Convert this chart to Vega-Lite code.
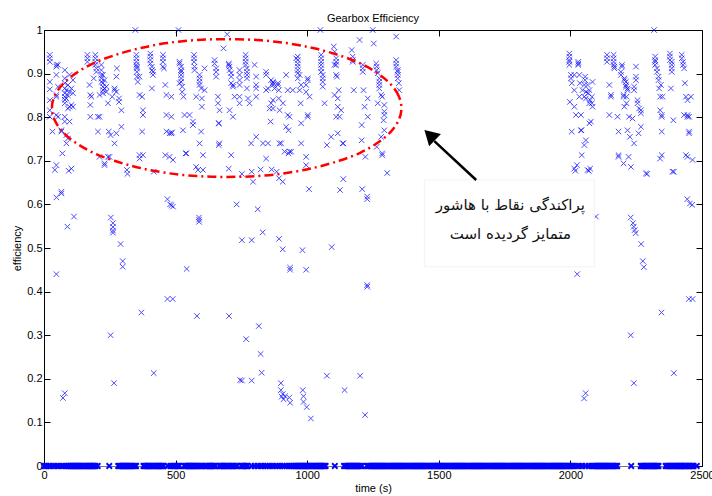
{
"$schema":"https://vega.github.io/schema/vega-lite/v6.json",
"width":658,"height":436,
"autosize":{"type":"none"},
"padding":{"left":44,"top":30,"right":10,"bottom":30},
"background":"white",
"title":{"text":"Gearbox Efficiency","fontSize":11,"font":"Liberation Sans","fontWeight":"normal","color":"black","anchor":"middle","offset":8,"baseline":"alphabetic","dy":17},
"config":{"view":{"stroke":null},"axis":{"labelFont":"Liberation Sans","titleFont":"Liberation Sans","labelFontSize":11,"titleFontSize":11,"titleFontWeight":"normal","labelColor":"black","titleColor":"black","domainColor":"black","tickColor":"black","grid":false,"tickSize":-6,"labelFlush":false}},
"datasets":{
"pts":[
{"t":22,"e":0.943},{"t":22,"e":0.935},{"t":22,"e":0.927},{"t":22,"e":0.881},{"t":22,"e":0.864},{"t":22,"e":0.839},{"t":22,"e":0.816},{"t":22,"e":0.801},
{"t":32,"e":0.767},{"t":47,"e":0.92},{"t":47,"e":0.916},{"t":47,"e":0.897},{"t":47,"e":0.851},{"t":47,"e":0.847},{"t":47,"e":0.805},{"t":47,"e":0.69},
{"t":53,"e":0.92},{"t":53,"e":0.87},{"t":53,"e":0.801},{"t":66,"e":0.77},{"t":66,"e":0.767},{"t":70,"e":0.717},
{"t":79,"e":0.908},{"t":79,"e":0.889},{"t":79,"e":0.878},{"t":79,"e":0.866},{"t":79,"e":0.855},{"t":79,"e":0.847},{"t":79,"e":0.84},{"t":79,"e":0.832},{"t":79,"e":0.801},{"t":79,"e":0.79},
{"t":85,"e":0.862},{"t":85,"e":0.843},{"t":85,"e":0.759},{"t":85,"e":0.74},{"t":91,"e":0.874},{"t":91,"e":0.85},{"t":91,"e":0.82},{"t":91,"e":0.751},
{"t":97,"e":0.897},{"t":97,"e":0.858},{"t":97,"e":0.824},{"t":97,"e":0.79},{"t":104,"e":0.866},{"t":104,"e":0.828},{"t":104,"e":0.682},{"t":110,"e":0.885},{"t":110,"e":0.855},{"t":110,"e":0.824},
{"t":165,"e":0.943},{"t":165,"e":0.935},{"t":165,"e":0.927},{"t":173,"e":0.874},{"t":176,"e":0.851},{"t":176,"e":0.828},{"t":176,"e":0.801},{"t":180,"e":0.847},{"t":189,"e":0.889},
{"t":195,"e":0.943},{"t":195,"e":0.935},{"t":195,"e":0.927},{"t":195,"e":0.92},{"t":199,"e":0.912},{"t":199,"e":0.904},{"t":205,"e":0.801},{"t":205,"e":0.767},{"t":211,"e":0.851},{"t":211,"e":0.801},{"t":211,"e":0.709},
{"t":218,"e":0.92},{"t":218,"e":0.908},{"t":218,"e":0.897},{"t":218,"e":0.889},{"t":218,"e":0.881},{"t":224,"e":0.878},{"t":224,"e":0.87},{"t":224,"e":0.862},{"t":224,"e":0.855},{"t":224,"e":0.897},
{"t":230,"e":0.69},{"t":230,"e":0.694},{"t":230,"e":0.885},{"t":230,"e":0.866},{"t":237,"e":0.87},{"t":237,"e":0.858},{"t":243,"e":0.832},{"t":243,"e":0.709},{"t":249,"e":0.709},{"t":253,"e":0.759},{"t":246,"e":0.767},{"t":259,"e":0.847},
{"t":268,"e":0.866},{"t":268,"e":0.862},{"t":268,"e":0.74},{"t":275,"e":0.893},{"t":275,"e":0.858},{"t":275,"e":0.763},{"t":277,"e":0.912},{"t":285,"e":0.835},{"t":285,"e":0.843},{"t":294,"e":0.816},{"t":294,"e":0.778},{"t":315,"e":0.679},
{"t":351,"e":0.943},{"t":351,"e":0.935},{"t":351,"e":0.927},{"t":351,"e":0.92},{"t":353,"e":0.916},{"t":353,"e":0.912},{"t":353,"e":0.904},{"t":353,"e":0.893},{"t":356,"e":0.881},
{"t":363,"e":0.893},{"t":363,"e":0.851},{"t":363,"e":0.713},{"t":363,"e":0.705},{"t":373,"e":0.847},{"t":373,"e":0.767},{"t":376,"e":0.816},{"t":376,"e":0.805},{"t":376,"e":0.713},
{"t":404,"e":0.946},{"t":404,"e":0.939},{"t":404,"e":0.931},{"t":404,"e":0.923},{"t":410,"e":0.916},{"t":410,"e":0.908},{"t":410,"e":0.866},{"t":414,"e":0.904},{"t":414,"e":0.897},
{"t":452,"e":0.943},{"t":452,"e":0.935},{"t":452,"e":0.927},{"t":452,"e":0.916},{"t":456,"e":0.912},{"t":461,"e":0.874},{"t":461,"e":0.713},
{"t":465,"e":0.851},{"t":465,"e":0.805},{"t":465,"e":0.767},{"t":477,"e":0.763},{"t":477,"e":0.709},{"t":484,"e":0.847},{"t":484,"e":0.801},{"t":484,"e":0.763},{"t":486,"e":0.765},{"t":490,"e":0.702},
{"t":515,"e":0.927},{"t":515,"e":0.923},{"t":515,"e":0.878},{"t":521,"e":0.916},{"t":521,"e":0.908},{"t":521,"e":0.904},{"t":521,"e":0.897},{"t":521,"e":0.889},{"t":521,"e":0.881},
{"t":525,"e":0.858},{"t":525,"e":0.87},{"t":528,"e":0.77},{"t":530,"e":0.847},{"t":534,"e":0.805},{"t":538,"e":0.717},{"t":541,"e":0.717},{"t":553,"e":0.805},
{"t":566,"e":0.79},{"t":566,"e":0.782},{"t":570,"e":0.943},{"t":570,"e":0.935},{"t":570,"e":0.927},{"t":572,"e":0.916},{"t":572,"e":0.908},{"t":578,"e":0.847},{"t":578,"e":0.686},{"t":585,"e":0.679},
{"t":591,"e":0.897},{"t":591,"e":0.889},{"t":591,"e":0.881},{"t":591,"e":0.874},{"t":591,"e":0.74},{"t":597,"e":0.866},{"t":597,"e":0.767},{"t":600,"e":0.824},{"t":600,"e":0.843},{"t":604,"e":0.713},{"t":604,"e":0.679},{"t":610,"e":0.912},{"t":610,"e":0.862},
{"t":648,"e":0.931},{"t":648,"e":0.923},{"t":654,"e":0.912},{"t":654,"e":0.904},{"t":654,"e":0.893},{"t":661,"e":0.847},{"t":661,"e":0.832},{"t":663,"e":0.786},{"t":665,"e":0.786},{"t":664,"e":0.736},{"t":666,"e":0.74},{"t":667,"e":0.816},
{"t":682,"e":0.958},{"t":696,"e":0.99},{"t":702,"e":0.923},{"t":702,"e":0.92},{"t":702,"e":0.682},{"t":705,"e":0.916},{"t":705,"e":0.908},{"t":705,"e":0.816},{"t":711,"e":0.901},{"t":711,"e":0.893},{"t":711,"e":0.713},{"t":711,"e":0.878},{"t":718,"e":0.874},{"t":718,"e":0.87},{"t":718,"e":0.801},{"t":724,"e":0.847},
{"t":743,"e":0.908},{"t":743,"e":0.897},{"t":743,"e":0.885},{"t":743,"e":0.874},{"t":743,"e":0.847},{"t":743,"e":0.832},
{"t":766,"e":0.943},{"t":766,"e":0.935},{"t":766,"e":0.927},{"t":766,"e":0.92},{"t":771,"e":0.912},{"t":771,"e":0.904},{"t":771,"e":0.897},{"t":771,"e":0.889},{"t":771,"e":0.866},{"t":775,"e":0.843},{"t":781,"e":0.832},{"t":787,"e":0.74},
{"t":800,"e":0.92},{"t":806,"e":0.755},{"t":806,"e":0.893},{"t":806,"e":0.874},{"t":806,"e":0.866},{"t":806,"e":0.847},
{"t":832,"e":0.74},{"t":844,"e":0.904},{"t":844,"e":0.897},{"t":844,"e":0.862},{"t":844,"e":0.705},{"t":851,"e":0.866},{"t":851,"e":0.74},{"t":857,"e":0.82},{"t":861,"e":0.79},{"t":863,"e":0.885},{"t":863,"e":0.832},
{"t":870,"e":0.881},{"t":870,"e":0.878},{"t":870,"e":0.874},{"t":870,"e":0.839},{"t":870,"e":0.82},{"t":876,"e":0.866},
{"t":889,"e":0.878},{"t":889,"e":0.874},{"t":892,"e":0.862},{"t":892,"e":0.843},{"t":895,"e":0.816},{"t":895,"e":0.74},{"t":901,"e":0.74},{"t":908,"e":0.832},{"t":914,"e":0.721},
{"t":920,"e":0.897},{"t":920,"e":0.778},{"t":926,"e":0.862},{"t":926,"e":0.805},{"t":929,"e":0.77},{"t":929,"e":0.717},{"t":933,"e":0.801},{"t":933,"e":0.721},{"t":939,"e":0.721},{"t":945,"e":0.862},
{"t":958,"e":0.935},{"t":964,"e":0.939},{"t":964,"e":0.931},{"t":964,"e":0.923},{"t":964,"e":0.916},{"t":964,"e":0.908},{"t":964,"e":0.901},{"t":964,"e":0.889},{"t":971,"e":0.897},{"t":971,"e":0.862},{"t":975,"e":0.832},{"t":977,"e":0.874},{"t":977,"e":0.786},{"t":977,"e":0.74},
{"t":996,"e":0.874},{"t":996,"e":0.858},{"t":996,"e":0.709},{"t":996,"e":0.69},{"t":1002,"e":0.889},{"t":1002,"e":0.885},{"t":1002,"e":0.805},{"t":1002,"e":0.801},{"t":1009,"e":0.847},
{"t":1053,"e":0.943},{"t":1053,"e":0.935},{"t":1053,"e":0.927},{"t":1053,"e":0.92},{"t":1053,"e":0.912},{"t":1053,"e":0.904},{"t":1059,"e":0.897},{"t":1059,"e":0.889},{"t":1059,"e":0.881},{"t":1059,"e":0.87},{"t":1066,"e":0.832},{"t":1075,"e":0.736},{"t":1091,"e":0.755},
{"t":1101,"e":0.962},{"t":1104,"e":0.95},{"t":1104,"e":0.92},{"t":1104,"e":0.851},{"t":1110,"e":0.935},{"t":1110,"e":0.927},{"t":1110,"e":0.92},{"t":1110,"e":0.897},{"t":1110,"e":0.801},{"t":1113,"e":0.893},{"t":1116,"e":0.843},{"t":1116,"e":0.824},{"t":1116,"e":0.763},{"t":1120,"e":0.862},{"t":1123,"e":0.801},{"t":1129,"e":0.816},{"t":1135,"e":0.74},{"t":1137,"e":0.74},
{"t":1169,"e":0.954},{"t":1173,"e":0.939},{"t":1173,"e":0.931},{"t":1173,"e":0.927},{"t":1177,"e":0.862},
{"t":1199,"e":0.977},{"t":1207,"e":0.782},{"t":1207,"e":0.747},{"t":1211,"e":0.92},{"t":1211,"e":0.912},{"t":1211,"e":0.904},{"t":1214,"e":0.862},{"t":1218,"e":0.824},{"t":1221,"e":0.709},{"t":1230,"e":0.843},{"t":1230,"e":0.801},
{"t":1253,"e":0.969},{"t":1262,"e":0.923},{"t":1264,"e":0.916},{"t":1264,"e":0.908},{"t":1264,"e":0.732},{"t":1268,"e":0.832},{"t":1268,"e":0.901},{"t":1274,"e":0.889},{"t":1274,"e":0.881},{"t":1274,"e":0.874},{"t":1274,"e":0.866},{"t":1281,"e":0.851},{"t":1281,"e":0.755},{"t":1285,"e":0.717},{"t":1285,"e":0.713},{"t":1285,"e":0.847},{"t":1290,"e":0.793},{"t":1293,"e":0.828},{"t":1293,"e":0.813},{"t":1293,"e":0.805},{"t":1293,"e":0.77},
{"t":1338,"e":0.985},{"t":1338,"e":0.931},{"t":1338,"e":0.923},{"t":1338,"e":0.916},{"t":1344,"e":0.908},{"t":1344,"e":0.904},{"t":1344,"e":0.897},{"t":1344,"e":0.889},{"t":1348,"e":0.878},{"t":1350,"e":0.862},
{"t":1996,"e":0.946},{"t":1996,"e":0.939},{"t":1996,"e":0.931},{"t":1996,"e":0.927},{"t":1996,"e":0.92},{"t":2002,"e":0.897},{"t":2002,"e":0.889},{"t":2005,"e":0.878},{"t":2005,"e":0.767},{"t":1998,"e":0.835},
{"t":2015,"e":0.862},{"t":2015,"e":0.824},{"t":2015,"e":0.682},{"t":2015,"e":0.897},{"t":2021,"e":0.805},{"t":2025,"e":0.69},{"t":2030,"e":0.927},{"t":2030,"e":0.923},{"t":2030,"e":0.92},{"t":2034,"e":0.897},{"t":2034,"e":0.847},{"t":2036,"e":0.878},{"t":2040,"e":0.805},{"t":2040,"e":0.77},{"t":2042,"e":0.77},{"t":2043,"e":0.713},{"t":2046,"e":0.862},
{"t":2053,"e":0.847},{"t":2053,"e":0.874},{"t":2053,"e":0.736},{"t":2056,"e":0.893},{"t":2056,"e":0.885},{"t":2059,"e":0.858},{"t":2059,"e":0.843},{"t":2059,"e":0.747},{"t":2065,"e":0.874},{"t":2065,"e":0.679},{"t":2068,"e":0.855},{"t":2072,"e":0.862},{"t":2072,"e":0.832},{"t":2072,"e":0.786},{"t":2075,"e":0.839},{"t":2075,"e":0.682},{"t":2078,"e":0.79},{"t":2082,"e":0.847},{"t":2082,"e":0.832},{"t":2084,"e":0.881},{"t":2084,"e":0.824},
{"t":2139,"e":0.943},{"t":2139,"e":0.935},{"t":2139,"e":0.927},{"t":2148,"e":0.874},{"t":2148,"e":0.805},{"t":2154,"e":0.851},{"t":2154,"e":0.847},{"t":2164,"e":0.943},{"t":2164,"e":0.935},{"t":2164,"e":0.927},{"t":2164,"e":0.92},{"t":2167,"e":0.916},{"t":2167,"e":0.912},{"t":2179,"e":0.801},{"t":2183,"e":0.767},{"t":2183,"e":0.713},{"t":2183,"e":0.709},
{"t":2192,"e":0.904},{"t":2192,"e":0.897},{"t":2196,"e":0.92},{"t":2196,"e":0.916},{"t":2202,"e":0.851},{"t":2202,"e":0.847},{"t":2202,"e":0.694},{"t":2205,"e":0.889},{"t":2205,"e":0.885},{"t":2205,"e":0.824},{"t":2211,"e":0.881},{"t":2211,"e":0.874},{"t":2211,"e":0.87},{"t":2213,"e":0.847},{"t":2213,"e":0.832},{"t":2217,"e":0.866},{"t":2217,"e":0.862},{"t":2217,"e":0.77},{"t":2221,"e":0.709},{"t":2223,"e":0.801},{"t":2226,"e":0.755},{"t":2230,"e":0.686},{"t":2236,"e":0.797},{"t":2242,"e":0.74},{"t":2242,"e":0.87},{"t":2242,"e":0.862},
{"t":2249,"e":0.916},{"t":2249,"e":0.893},{"t":2249,"e":0.885},{"t":2255,"e":0.839},{"t":2255,"e":0.832},{"t":2259,"e":0.763},{"t":2261,"e":0.82},{"t":2268,"e":0.816},{"t":2268,"e":0.809},{"t":2268,"e":0.778},{"t":2287,"e":0.671},
{"t":2322,"e":0.939},{"t":2322,"e":0.931},{"t":2322,"e":0.927},{"t":2322,"e":0.92},{"t":2329,"e":0.912},{"t":2329,"e":0.904},{"t":2335,"e":0.893},{"t":2335,"e":0.885},{"t":2337,"e":0.866},{"t":2341,"e":0.847},{"t":2341,"e":0.816},{"t":2341,"e":0.705},{"t":2344,"e":0.874},{"t":2347,"e":0.805},{"t":2347,"e":0.801},{"t":2347,"e":0.767},{"t":2347,"e":0.713},{"t":2350,"e":0.847},
{"t":2378,"e":0.946},{"t":2378,"e":0.939},{"t":2378,"e":0.931},{"t":2382,"e":0.866},{"t":2385,"e":0.927},{"t":2385,"e":0.92},{"t":2385,"e":0.912},{"t":2385,"e":0.904},{"t":2388,"e":0.675},{"t":2391,"e":0.793},
{"t":2423,"e":0.943},{"t":2423,"e":0.935},{"t":2428,"e":0.927},{"t":2428,"e":0.92},{"t":2432,"e":0.912},{"t":2432,"e":0.805},{"t":2435,"e":0.878},{"t":2439,"e":0.847},{"t":2439,"e":0.713},{"t":2445,"e":0.839},{"t":2445,"e":0.709},{"t":2445,"e":0.805},{"t":2445,"e":0.801},{"t":2451,"e":0.801},{"t":2451,"e":0.767},{"t":2451,"e":0.763},{"t":2458,"e":0.847},{"t":2464,"e":0.702},
{"t":347,"e":1},{"t":511,"e":1},{"t":1050,"e":1},{"t":1249,"e":1},{"t":2318,"e":1},
{"t":41,"e":0.679},{"t":47,"e":0.616},{"t":66,"e":0.629},{"t":66,"e":0.625},{"t":47,"e":0.44},{"t":89,"e":0.549},{"t":114,"e":0.572},{"t":94,"e":0.677},{"t":254,"e":0.57},{"t":262,"e":0.557},{"t":262,"e":0.548},{"t":262,"e":0.54},{"t":262,"e":0.535},{"t":291,"e":0.509},{"t":299,"e":0.47},{"t":299,"e":0.457},{"t":253,"e":0.3},{"t":370,"e":0.352},{"t":469,"e":0.612},{"t":479,"e":0.6},{"t":484,"e":0.598},{"t":490,"e":0.595},{"t":542,"e":0.452},{"t":469,"e":0.383},{"t":489,"e":0.383},{"t":589,"e":0.57},{"t":589,"e":0.565},{"t":589,"e":0.56},{"t":581,"e":0.344},{"t":703,"e":0.344},{"t":732,"e":0.6},{"t":417,"e":0.675},{"t":317,"e":0.67},
{"t":72,"e":0.156},{"t":79,"e":0.167},{"t":266,"e":0.19},{"t":417,"e":0.213},{"t":745,"e":0.197},
{"t":752,"e":0.67},{"t":789,"e":0.675},{"t":794,"e":0.652},{"t":823,"e":0.68},{"t":865,"e":0.68},{"t":884,"e":0.675},{"t":893,"e":0.66},{"t":907,"e":0.652},{"t":1137,"e":0.658},{"t":1125,"e":0.633},{"t":1007,"e":0.635},{"t":1209,"e":0.635},{"t":1228,"e":0.618},{"t":1228,"e":0.612},{"t":1304,"e":0.672},{"t":812,"e":0.589},{"t":831,"e":0.536},{"t":752,"e":0.518},{"t":789,"e":0.518},{"t":893,"e":0.521},{"t":907,"e":0.497},{"t":982,"e":0.495},{"t":1093,"e":0.502},{"t":935,"e":0.455},{"t":935,"e":0.45},{"t":996,"e":0.45},{"t":1228,"e":0.415},{"t":1228,"e":0.411},{"t":816,"e":0.321},{"t":768,"e":0.291},
{"t":823,"e":0.257},{"t":827,"e":0.214},{"t":752,"e":0.196},{"t":789,"e":0.196},{"t":900,"e":0.19},{"t":900,"e":0.174},{"t":907,"e":0.165},{"t":903,"e":0.159},{"t":910,"e":0.153},{"t":916,"e":0.16},{"t":932,"e":0.157},{"t":935,"e":0.145},{"t":983,"e":0.174},{"t":986,"e":0.16},{"t":986,"e":0.147},{"t":998,"e":0.135},{"t":1014,"e":0.109},{"t":1075,"e":0.207},{"t":1142,"e":0.174},{"t":1201,"e":0.207},{"t":1220,"e":0.117},
{"t":2019,"e":0.677},{"t":2070,"e":0.677},{"t":2292,"e":0.67},{"t":2393,"e":0.675},{"t":2444,"e":0.612},{"t":2454,"e":0.602},{"t":2463,"e":0.599},{"t":2229,"e":0.57},{"t":2238,"e":0.557},{"t":2241,"e":0.549},{"t":2244,"e":0.541},{"t":2248,"e":0.534},{"t":2269,"e":0.509},{"t":2275,"e":0.47},{"t":2279,"e":0.456},{"t":2026,"e":0.44},{"t":2450,"e":0.383},{"t":2464,"e":0.383},{"t":2346,"e":0.352},{"t":2229,"e":0.3},{"t":2097,"e":0.572},
{"t":2052,"e":0.155},{"t":2058,"e":0.167},{"t":2241,"e":0.19},{"t":2393,"e":0.213}
],
"zero":[
{"t":0,"e":0},{"t":4,"e":0},{"t":8,"e":0},{"t":16,"e":0},{"t":26,"e":0},{"t":36,"e":0},{"t":46,"e":0},{"t":56,"e":0},{"t":66,"e":0},{"t":76,"e":0},{"t":86,"e":0},
{"t":92,"e":0},{"t":96,"e":0},{"t":100,"e":0},{"t":104,"e":0},{"t":108,"e":0},{"t":112,"e":0},{"t":116,"e":0},{"t":120,"e":0},{"t":124,"e":0},{"t":128,"e":0},{"t":132,"e":0},{"t":136,"e":0},{"t":140,"e":0},{"t":144,"e":0},{"t":148,"e":0},{"t":152,"e":0},{"t":156,"e":0},{"t":160,"e":0},{"t":164,"e":0},{"t":168,"e":0},{"t":172,"e":0},{"t":176,"e":0},{"t":180,"e":0},{"t":184,"e":0},{"t":188,"e":0},{"t":192,"e":0},{"t":196,"e":0},{"t":204,"e":0},
{"t":248,"e":0},
{"t":282,"e":0},{"t":286,"e":0},{"t":290,"e":0},{"t":294,"e":0},{"t":298,"e":0},{"t":302,"e":0},{"t":306,"e":0},{"t":310,"e":0},{"t":314,"e":0},{"t":318,"e":0},{"t":322,"e":0},{"t":326,"e":0},{"t":330,"e":0},{"t":334,"e":0},{"t":338,"e":0},{"t":342,"e":0},{"t":346,"e":0},{"t":350,"e":0},
{"t":378,"e":0},{"t":382,"e":0},{"t":386,"e":0},{"t":390,"e":0},{"t":394,"e":0},{"t":398,"e":0},{"t":402,"e":0},{"t":406,"e":0},{"t":410,"e":0},{"t":414,"e":0},{"t":418,"e":0},{"t":422,"e":0},{"t":426,"e":0},{"t":430,"e":0},{"t":434,"e":0},{"t":438,"e":0},{"t":442,"e":0},{"t":446,"e":0},{"t":450,"e":0},{"t":454,"e":0},
{"t":470,"e":0},{"t":480,"e":0},{"t":490,"e":0},{"t":494,"e":0},{"t":498,"e":0},{"t":502,"e":0},{"t":506,"e":0},{"t":510,"e":0},{"t":514,"e":0},
{"t":533,"e":0},{"t":537,"e":0},{"t":541,"e":0},{"t":545,"e":0},{"t":549,"e":0},{"t":553,"e":0},{"t":557,"e":0},{"t":561,"e":0},{"t":565,"e":0},{"t":569,"e":0},{"t":573,"e":0},{"t":577,"e":0},{"t":581,"e":0},{"t":585,"e":0},{"t":589,"e":0},{"t":593,"e":0},{"t":597,"e":0},{"t":601,"e":0},
{"t":612,"e":0},{"t":616,"e":0},{"t":620,"e":0},{"t":624,"e":0},{"t":628,"e":0},{"t":632,"e":0},{"t":636,"e":0},{"t":640,"e":0},{"t":644,"e":0},{"t":648,"e":0},{"t":652,"e":0},
{"t":667,"e":0},{"t":671,"e":0},{"t":675,"e":0},{"t":679,"e":0},{"t":683,"e":0},{"t":687,"e":0},{"t":691,"e":0},{"t":695,"e":0},{"t":699,"e":0},{"t":703,"e":0},
{"t":710,"e":0},{"t":714,"e":0},{"t":718,"e":0},{"t":722,"e":0},{"t":726,"e":0},{"t":730,"e":0},{"t":734,"e":0},
{"t":750,"e":0},{"t":754,"e":0},{"t":758,"e":0},{"t":762,"e":0},{"t":766,"e":0},{"t":770,"e":0},{"t":774,"e":0},
{"t":789,"e":0},{"t":800,"e":0},{"t":812,"e":0},{"t":822,"e":0},{"t":832,"e":0},{"t":842,"e":0},{"t":850,"e":0},{"t":858,"e":0},{"t":868,"e":0},{"t":878,"e":0},{"t":886,"e":0},{"t":896,"e":0},{"t":906,"e":0},{"t":914,"e":0},{"t":922,"e":0},{"t":932,"e":0},{"t":940,"e":0},
{"t":946,"e":0},{"t":950,"e":0},{"t":954,"e":0},{"t":958,"e":0},{"t":962,"e":0},{"t":966,"e":0},{"t":970,"e":0},{"t":974,"e":0},{"t":978,"e":0},{"t":982,"e":0},{"t":986,"e":0},{"t":990,"e":0},{"t":994,"e":0},{"t":998,"e":0},{"t":1002,"e":0},{"t":1006,"e":0},{"t":1010,"e":0},{"t":1014,"e":0},{"t":1018,"e":0},{"t":1022,"e":0},{"t":1026,"e":0},{"t":1030,"e":0},{"t":1034,"e":0},{"t":1038,"e":0},{"t":1042,"e":0},{"t":1046,"e":0},{"t":1050,"e":0},{"t":1054,"e":0},{"t":1058,"e":0},{"t":1062,"e":0},{"t":1066,"e":0},{"t":1070,"e":0},
{"t":1105,"e":0},
{"t":1140,"e":0},{"t":1144,"e":0},{"t":1148,"e":0},{"t":1152,"e":0},{"t":1156,"e":0},{"t":1160,"e":0},{"t":1164,"e":0},{"t":1168,"e":0},{"t":1172,"e":0},{"t":1176,"e":0},{"t":1180,"e":0},{"t":1184,"e":0},{"t":1188,"e":0},{"t":1192,"e":0},{"t":1196,"e":0},{"t":1200,"e":0},{"t":1204,"e":0},{"t":1208,"e":0},
{"t":1227,"e":0},{"t":1231,"e":0},{"t":1235,"e":0},{"t":1239,"e":0},{"t":1243,"e":0},{"t":1247,"e":0},{"t":1251,"e":0},{"t":1255,"e":0},{"t":1259,"e":0},{"t":1263,"e":0},{"t":1267,"e":0},{"t":1271,"e":0},{"t":1275,"e":0},{"t":1279,"e":0},{"t":1283,"e":0},{"t":1287,"e":0},{"t":1291,"e":0},{"t":1295,"e":0},{"t":1299,"e":0},{"t":1303,"e":0},{"t":1307,"e":0},{"t":1311,"e":0},{"t":1315,"e":0},{"t":1319,"e":0},{"t":1323,"e":0},{"t":1327,"e":0},{"t":1331,"e":0},{"t":1335,"e":0},{"t":1339,"e":0},{"t":1343,"e":0},{"t":1347,"e":0},{"t":1351,"e":0},{"t":1355,"e":0},{"t":1359,"e":0},{"t":1363,"e":0},{"t":1367,"e":0},{"t":1371,"e":0},{"t":1375,"e":0},{"t":1379,"e":0},{"t":1383,"e":0},{"t":1387,"e":0},{"t":1391,"e":0},{"t":1395,"e":0},{"t":1399,"e":0},{"t":1403,"e":0},{"t":1407,"e":0},{"t":1411,"e":0},{"t":1415,"e":0},{"t":1419,"e":0},{"t":1423,"e":0},{"t":1427,"e":0},{"t":1431,"e":0},{"t":1435,"e":0},{"t":1439,"e":0},{"t":1443,"e":0},{"t":1447,"e":0},{"t":1451,"e":0},{"t":1455,"e":0},{"t":1459,"e":0},{"t":1463,"e":0},{"t":1467,"e":0},{"t":1471,"e":0},{"t":1475,"e":0},{"t":1479,"e":0},{"t":1483,"e":0},{"t":1487,"e":0},{"t":1491,"e":0},{"t":1495,"e":0},{"t":1499,"e":0},{"t":1503,"e":0},{"t":1507,"e":0},{"t":1511,"e":0},{"t":1515,"e":0},{"t":1519,"e":0},{"t":1523,"e":0},{"t":1527,"e":0},{"t":1531,"e":0},{"t":1535,"e":0},{"t":1539,"e":0},{"t":1543,"e":0},{"t":1547,"e":0},{"t":1551,"e":0},{"t":1555,"e":0},{"t":1559,"e":0},{"t":1563,"e":0},{"t":1567,"e":0},{"t":1571,"e":0},{"t":1575,"e":0},{"t":1579,"e":0},{"t":1583,"e":0},{"t":1587,"e":0},{"t":1591,"e":0},{"t":1595,"e":0},{"t":1599,"e":0},{"t":1603,"e":0},{"t":1607,"e":0},{"t":1611,"e":0},{"t":1615,"e":0},{"t":1619,"e":0},{"t":1623,"e":0},{"t":1627,"e":0},{"t":1631,"e":0},{"t":1635,"e":0},{"t":1639,"e":0},{"t":1643,"e":0},{"t":1647,"e":0},{"t":1651,"e":0},{"t":1655,"e":0},{"t":1659,"e":0},{"t":1663,"e":0},{"t":1667,"e":0},{"t":1671,"e":0},{"t":1675,"e":0},{"t":1679,"e":0},{"t":1683,"e":0},{"t":1687,"e":0},{"t":1691,"e":0},{"t":1695,"e":0},{"t":1699,"e":0},{"t":1703,"e":0},{"t":1707,"e":0},{"t":1711,"e":0},{"t":1715,"e":0},{"t":1719,"e":0},{"t":1723,"e":0},{"t":1727,"e":0},{"t":1731,"e":0},{"t":1735,"e":0},{"t":1739,"e":0},{"t":1743,"e":0},{"t":1747,"e":0},{"t":1751,"e":0},{"t":1755,"e":0},{"t":1759,"e":0},{"t":1763,"e":0},{"t":1767,"e":0},{"t":1771,"e":0},{"t":1775,"e":0},{"t":1779,"e":0},{"t":1783,"e":0},{"t":1787,"e":0},{"t":1791,"e":0},{"t":1795,"e":0},{"t":1799,"e":0},{"t":1803,"e":0},{"t":1807,"e":0},{"t":1811,"e":0},{"t":1815,"e":0},{"t":1819,"e":0},{"t":1823,"e":0},{"t":1827,"e":0},{"t":1831,"e":0},{"t":1835,"e":0},{"t":1839,"e":0},{"t":1843,"e":0},{"t":1847,"e":0},{"t":1851,"e":0},{"t":1855,"e":0},{"t":1859,"e":0},{"t":1863,"e":0},{"t":1867,"e":0},{"t":1871,"e":0},{"t":1875,"e":0},{"t":1879,"e":0},{"t":1883,"e":0},{"t":1887,"e":0},{"t":1891,"e":0},{"t":1895,"e":0},{"t":1899,"e":0},{"t":1903,"e":0},{"t":1907,"e":0},{"t":1911,"e":0},{"t":1915,"e":0},{"t":1919,"e":0},{"t":1923,"e":0},{"t":1927,"e":0},{"t":1931,"e":0},{"t":1935,"e":0},{"t":1939,"e":0},{"t":1943,"e":0},{"t":1947,"e":0},{"t":1951,"e":0},{"t":1955,"e":0},{"t":1959,"e":0},{"t":1963,"e":0},{"t":1967,"e":0},{"t":1971,"e":0},{"t":1975,"e":0},{"t":1979,"e":0},{"t":1983,"e":0},{"t":1987,"e":0},{"t":1991,"e":0},{"t":1995,"e":0},{"t":1999,"e":0},{"t":2003,"e":0},{"t":2007,"e":0},
{"t":2014,"e":0},{"t":2026,"e":0},{"t":2036,"e":0},{"t":2046,"e":0},{"t":2058,"e":0},{"t":2070,"e":0},{"t":2080,"e":0},
{"t":2086,"e":0},{"t":2090,"e":0},{"t":2094,"e":0},{"t":2098,"e":0},{"t":2102,"e":0},{"t":2106,"e":0},{"t":2110,"e":0},{"t":2114,"e":0},{"t":2118,"e":0},{"t":2122,"e":0},{"t":2126,"e":0},{"t":2130,"e":0},{"t":2134,"e":0},{"t":2138,"e":0},{"t":2142,"e":0},{"t":2146,"e":0},{"t":2150,"e":0},{"t":2154,"e":0},{"t":2158,"e":0},{"t":2162,"e":0},{"t":2166,"e":0},{"t":2170,"e":0},{"t":2174,"e":0},{"t":2178,"e":0},
{"t":2231,"e":0},
{"t":2267,"e":0},{"t":2271,"e":0},{"t":2275,"e":0},{"t":2279,"e":0},{"t":2283,"e":0},{"t":2287,"e":0},{"t":2291,"e":0},{"t":2295,"e":0},{"t":2299,"e":0},{"t":2303,"e":0},{"t":2307,"e":0},{"t":2311,"e":0},{"t":2315,"e":0},{"t":2319,"e":0},{"t":2323,"e":0},{"t":2327,"e":0},{"t":2331,"e":0},{"t":2335,"e":0},
{"t":2362,"e":0},{"t":2366,"e":0},{"t":2370,"e":0},{"t":2374,"e":0},{"t":2378,"e":0},{"t":2382,"e":0},{"t":2386,"e":0},{"t":2390,"e":0},{"t":2394,"e":0},{"t":2398,"e":0},{"t":2402,"e":0},{"t":2406,"e":0},{"t":2410,"e":0},{"t":2414,"e":0},{"t":2418,"e":0},{"t":2422,"e":0},{"t":2426,"e":0},{"t":2430,"e":0},{"t":2434,"e":0},{"t":2438,"e":0},{"t":2442,"e":0},
{"t":2448,"e":0},{"t":2452,"e":0},{"t":2456,"e":0},{"t":2460,"e":0},{"t":2464,"e":0},{"t":2468,"e":0},{"t":2480,"e":0}
],
"ell":[
{"k":0,"t":1358,"e":0.821},{"k":1,"t":1348,"e":0.848},{"k":2,"t":1318,"e":0.875},{"k":3,"t":1269,"e":0.9},{"k":4,"t":1203,"e":0.923},{"k":5,"t":1121,"e":0.942},{"k":6,"t":1026,"e":0.958},{"k":7,"t":921,"e":0.97},{"k":8,"t":809,"e":0.977},{"k":9,"t":694,"e":0.979},{"k":10,"t":579,"e":0.977},{"k":11,"t":467,"e":0.97},{"k":12,"t":362,"e":0.958},{"k":13,"t":267,"e":0.942},{"k":14,"t":185,"e":0.923},{"k":15,"t":119,"e":0.9},{"k":16,"t":70,"e":0.875},{"k":17,"t":40,"e":0.848},{"k":18,"t":30,"e":0.821},{"k":19,"t":40,"e":0.794},{"k":20,"t":70,"e":0.767},{"k":21,"t":119,"e":0.742},{"k":22,"t":185,"e":0.719},{"k":23,"t":267,"e":0.7},{"k":24,"t":362,"e":0.684},{"k":25,"t":467,"e":0.672},{"k":26,"t":579,"e":0.665},{"k":27,"t":694,"e":0.663},{"k":28,"t":809,"e":0.665},{"k":29,"t":921,"e":0.672},{"k":30,"t":1026,"e":0.684},{"k":31,"t":1121,"e":0.7},{"k":32,"t":1203,"e":0.719},{"k":33,"t":1269,"e":0.742},{"k":34,"t":1318,"e":0.767},{"k":35,"t":1348,"e":0.794}
],
"box":[{"t":1445,"t2":2091,"e":0.457,"e2":0.656}],
"txt":[{"t":1772,"e":0.598,"s":"پراکندگی نقاط با هاشور"},{"t":1772,"e":0.533,"s":"متمایز گردیده است"}],
"arrow":[{"t":1642,"e":0.656,"t2":1483,"e2":0.745}],
"head":[{"t":1465.5,"e":0.759}]
},
"layer":[
{"data":{"name":"pts"},
 "mark":{"type":"point","shape":"M-1,-1L1,1M1,-1L-1,1","filled":false,"color":"#0000ff","strokeWidth":1,"opacity":0.7,"size":30},
 "encoding":{
  "x":{"field":"t","type":"quantitative","scale":{"domain":[0,2500],"nice":false,"zero":false},"axis":{"orient":"bottom","values":[0,500,1000,1500,2000,2500],"format":"d","title":"time (s)","labelPadding":9,"titlePadding":2,"domainColor":"#777777"}},
  "y":{"field":"e","type":"quantitative","scale":{"domain":[0,1],"nice":false,"zero":false},"axis":{"orient":"left","values":[0,0.1,0.2,0.3,0.4,0.5,0.6,0.7,0.8,0.9,1],"format":".1~f","title":"efficiency","labelPadding":8,"titlePadding":4}}
 }},
{"data":{"name":"zero"},
 "mark":{"type":"point","shape":"M-1,-1L1,1M1,-1L-1,1","filled":false,"color":"#0000ff","strokeWidth":1.8,"opacity":1,"size":30},
 "encoding":{
  "x":{"field":"t","type":"quantitative","scale":{"domain":[0,2500],"nice":false,"zero":false},"axis":null},
  "y":{"field":"e","type":"quantitative","scale":{"domain":[0,1],"nice":false,"zero":false},"axis":null}
 }},
{"data":{"name":"ell"},
 "mark":{"type":"line","color":"#ff0000","strokeWidth":2.5,"strokeDash":[9,4,2,4],"interpolate":"cardinal-closed"},
 "encoding":{
  "x":{"field":"t","type":"quantitative","scale":{"domain":[0,2500],"nice":false,"zero":false},"axis":{"orient":"top","values":[0,500,1000,1500,2000,2500],"labels":false,"title":null,"domainColor":"black"}},
  "y":{"field":"e","type":"quantitative","scale":{"domain":[0,1],"nice":false,"zero":false},"axis":{"orient":"right","values":[0,0.1,0.2,0.3,0.4,0.5,0.6,0.7,0.8,0.9,1],"labels":false,"title":null}},
  "order":{"field":"k","type":"quantitative"}
 }},
{"data":{"name":"box"},
 "mark":{"type":"rect","fill":"white","stroke":"#f2f2f2","strokeWidth":1},
 "encoding":{
  "x":{"field":"t","type":"quantitative","axis":null},"x2":{"field":"t2"},
  "y":{"field":"e","type":"quantitative","axis":null},"y2":{"field":"e2"}
 }},
{"data":{"name":"txt"},
 "mark":{"type":"text","font":"DejaVu Sans","fontSize":15,"align":"center","baseline":"middle","color":"#111111"},
 "encoding":{
  "x":{"field":"t","type":"quantitative","axis":null},
  "y":{"field":"e","type":"quantitative","axis":null},
  "text":{"field":"s"}
 }},
{"data":{"name":"arrow"},
 "mark":{"type":"rule","color":"black","strokeWidth":2.5},
 "encoding":{
  "x":{"field":"t","type":"quantitative","axis":null},"x2":{"field":"t2"},
  "y":{"field":"e","type":"quantitative","axis":null},"y2":{"field":"e2"}
 }},
{"data":{"name":"head"},
 "mark":{"type":"point","shape":"triangle-up","filled":true,"color":"black","opacity":1,"size":289,"angle":314},
 "encoding":{
  "x":{"field":"t","type":"quantitative","axis":null},
  "y":{"field":"e","type":"quantitative","axis":null}
 }}
],
"resolve":{"axis":{"x":"independent","y":"independent"}}
}
